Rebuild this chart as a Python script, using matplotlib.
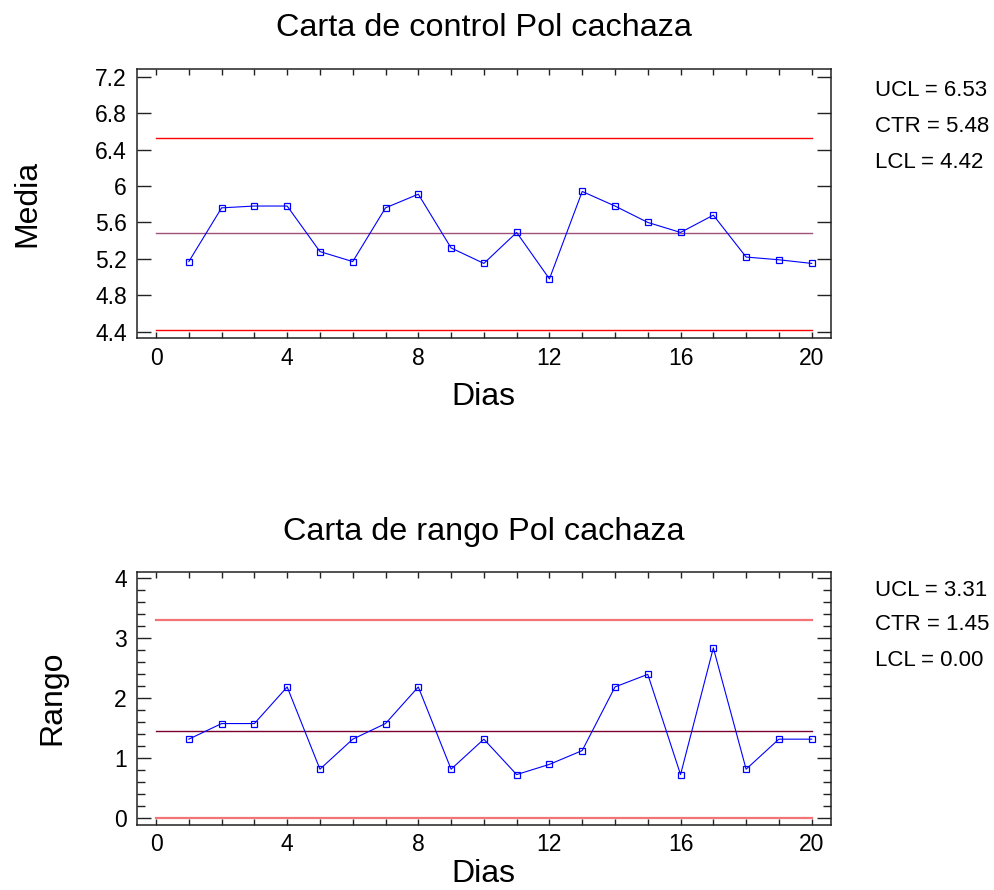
import numpy as np
import matplotlib
matplotlib.use("Agg")
import matplotlib.pyplot as plt
from matplotlib.ticker import MultipleLocator

plt.rcParams['font.family'] = ['Liberation Sans', 'DejaVu Sans']

# Pol cachaza por dia
dias = list(range(1, 21))
media = [5.17, 5.76, 5.78, 5.78, 5.28, 5.17, 5.76, 5.91, 5.32, 5.15,
         5.49, 4.98, 5.94, 5.78, 5.60, 5.49, 5.68, 5.22, 5.19, 5.15]
rango = [1.32, 1.58, 1.58, 2.19, 0.82, 1.32, 1.58, 2.19, 0.82, 1.32,
         0.73, 0.90, 1.13, 2.19, 2.40, 0.73, 2.84, 0.82, 1.32, 1.32]

# limites de control (UCL, CTR, LCL)
lim_media = [6.53, 5.48, 4.42]
lim_rango = [3.31, 1.45, 0.00]

W, H = 994, 890
fig = plt.figure(figsize=(W / 100, H / 100), dpi=100)

def box(l, t, r, b):
    return [l / W, 1 - b / H, (r - l) / W, (b - t) / H]

ax1 = fig.add_axes(box(136.7, 69.3, 830.7, 338.3))
ax2 = fig.add_axes(box(136.7, 571.7, 830.7, 825.0))

def control_chart(ax, y, lims, ylim, ymajor, yminor, lcol, ccol, lwl):
    ax.plot([0, 20], [lims[0]] * 2, color=lcol, lw=lwl)
    ax.plot([0, 20], [lims[2]] * 2, color=lcol, lw=lwl)
    ax.plot([0, 20], [lims[1]] * 2, color=ccol, lw=1.0)
    ax.plot(dias, y, color='#0000ff', lw=0.8, marker='s', ms=5,
            mfc='none', mec='#0000ff', mew=0.9)
    ax.set_xlim(-0.59, 20.58)
    ax.set_ylim(*ylim)
    ax.xaxis.set_major_locator(MultipleLocator(4))
    ax.xaxis.set_minor_locator(MultipleLocator(1))
    ax.yaxis.set_major_locator(MultipleLocator(ymajor))
    if yminor:
        ax.yaxis.set_minor_locator(MultipleLocator(yminor))
    ax.tick_params(axis='both', which='both', direction='in', top=True, right=True,
                   labelsize=16.5, width=1.0, color='#222222')
    ax.tick_params(axis='x', which='both', length=4.5)
    ax.tick_params(axis='y', which='major', length=10)
    ax.tick_params(axis='y', which='minor', length=5.5)
    ax.tick_params(axis='x', pad=6)
    ax.tick_params(axis='y', pad=7)
    for s in ax.spines.values():
        s.set_linewidth(1.1)
        s.set_color('#222222')

control_chart(ax1, media, lim_media, (4.328, 7.281), 0.4, None,
              '#ff0000', '#a0507a', 1.0)
ax1.yaxis.set_major_formatter(lambda v, p: f"{v:.0f}" if abs(v - round(v)) < 1e-6 else f"{v:.1f}")
control_chart(ax2, rango, lim_rango, (-0.11, 4.11), 1, 0.2,
              '#f27474', '#7a0030', 1.6)

fig.text(483.7 / W, 1 - 28 / H, 'Carta de control Pol cachaza', ha='center', va='center', fontsize=23.3)
fig.text(483.7 / W, 1 - 532 / H, 'Carta de rango Pol cachaza', ha='center', va='center', fontsize=23.3)
fig.text(483.7 / W, 1 - 397 / H, 'Dias', ha='center', va='center', fontsize=23)
fig.text(483.7 / W, 1 - 874 / H, 'Dias', ha='center', va='center', fontsize=23)
fig.text(27 / W, 1 - 203 / H, 'Media', ha='center', va='center', rotation=90, fontsize=23)
fig.text(52 / W, 1 - 698 / H, 'Rango', ha='center', va='center', rotation=90, fontsize=23)

for lims, ys in ((lim_media, (91, 127, 163)), (lim_rango, (590, 624, 660))):
    for name, v, yy in zip(('UCL', 'CTR', 'LCL'), lims, ys):
        fig.text(875 / W, 1 - yy / H, f'{name} = {v:.2f}', ha='left', va='center', fontsize=16)

fig.savefig('out.png', dpi=100)
